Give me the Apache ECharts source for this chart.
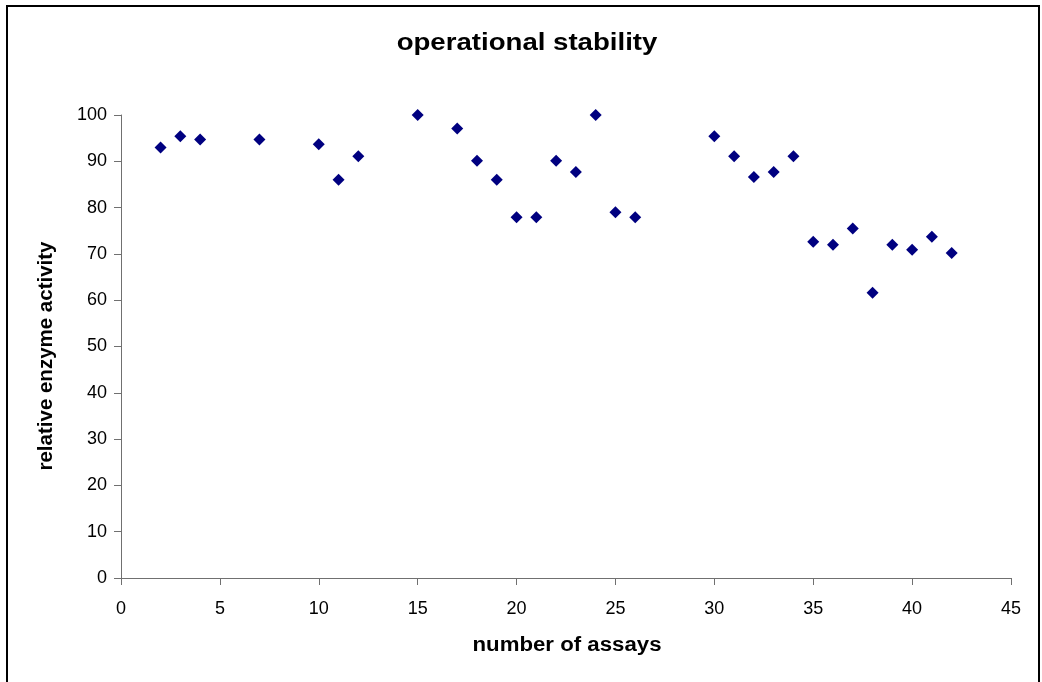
<!DOCTYPE html>
<html>
<head>
<meta charset="utf-8">
<style>
  html, body { margin: 0; padding: 0; background: #fff; }
  #chart { width: 1042px; height: 682px; }
</style>
<script src="https://cdn.jsdelivr.net/npm/echarts@6/dist/echarts.min.js"></script>
</head>
<body>
<div id="chart"></div>
<script>
// Operational stability: relative enzyme activity per assay number
const assays = [2, 3, 4, 7, 10, 11, 12, 15, 17, 18, 19, 20, 21, 22, 23, 24, 25, 26,
                30, 31, 32, 33, 34, 35, 36, 37, 38, 39, 40, 41, 42];
const activity = [93.0, 95.4, 94.7, 94.7, 93.7, 86.0, 91.1, 100, 97.1, 90.1, 86.0, 77.9, 77.9, 90.1, 87.7, 100, 79.0, 77.9,
                  95.4, 91.1, 86.6, 87.7, 91.1, 72.6, 72.0, 75.5, 61.6, 72.0, 70.9, 73.7, 70.2];
const xTicks = [0, 5, 10, 15, 20, 25, 30, 35, 40, 45];
const yTicks = [0, 10, 20, 30, 40, 50, 60, 70, 80, 90, 100];

const titleText = 'operational stability';
const xName = 'number of assays';
const yName = 'relative enzyme activity';

const points = assays.map((a, i) => [a, activity[i]]);
const font = '"Liberation Sans", Arial, sans-serif';
const axisColor = '#707070';

const chart = echarts.init(document.getElementById('chart'), null, { renderer: 'canvas' });
chart.setOption({
  backgroundColor: '#ffffff',
  animation: false,
  graphic: [
    {
      // outer frame
      type: 'rect',
      shape: { x: 7, y: 6, width: 1032, height: 690 },
      style: { fill: 'none', stroke: '#000', lineWidth: 2 },
      silent: true
    },
    {
      // chart title (slightly widened lettering)
      type: 'text',
      x: 527, y: 44, scaleX: 1.2,
      style: {
        text: titleText, fontFamily: font, fontSize: 23, fontWeight: 'bold',
        fill: '#000', align: 'center', verticalAlign: 'middle'
      },
      silent: true
    },
    {
      // x-axis title
      type: 'text',
      x: 567, y: 646, scaleX: 1.14,
      style: {
        text: xName, fontFamily: font, fontSize: 19.5, fontWeight: 'bold',
        fill: '#000', align: 'center', verticalAlign: 'middle'
      },
      silent: true
    },
    {
      // y-axis title, rotated
      type: 'text',
      x: 46, y: 356, rotation: Math.PI / 2,
      style: {
        text: yName, fontFamily: font, fontSize: 20.5, fontWeight: 'bold',
        fill: '#000', align: 'center', verticalAlign: 'middle'
      },
      silent: true
    }
  ],
  grid: { left: 121, right: 31, top: 115, bottom: 104, containLabel: false },
  xAxis: {
    type: 'value',
    min: xTicks[0], max: xTicks[xTicks.length - 1], interval: 5,
    axisLine: { show: true, onZero: false, lineStyle: { color: axisColor, width: 1 } },
    axisTick: { show: true, inside: false, length: 7, lineStyle: { color: axisColor } },
    axisLabel: { fontFamily: font, fontSize: 18, color: '#000', margin: 22 },
    splitLine: { show: false }
  },
  yAxis: {
    type: 'value',
    min: yTicks[0], max: yTicks[yTicks.length - 1], interval: 10,
    axisLine: { show: true, lineStyle: { color: axisColor, width: 1 } },
    axisTick: { show: true, inside: false, length: 7, lineStyle: { color: axisColor } },
    axisLabel: { fontFamily: font, fontSize: 18, color: '#000', margin: 14 },
    splitLine: { show: false }
  },
  series: [{
    type: 'scatter',
    data: points,
    symbol: 'diamond',
    symbolSize: 12,
    itemStyle: { color: '#000080', opacity: 1 }
  }]
});
</script>
</body>
</html>
